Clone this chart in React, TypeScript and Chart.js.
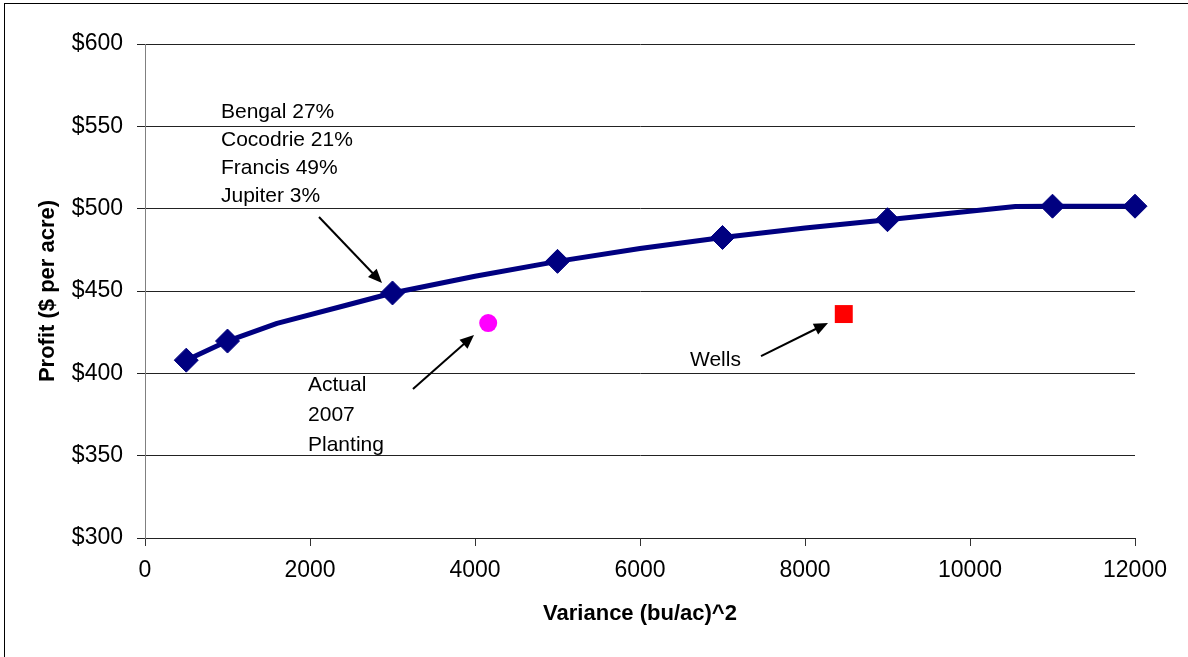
import React, { useEffect, useRef } from "react";
import { Chart, registerables } from "chart.js";

Chart.register(...registerables);

// ---- data ----
const frontierX = [500, 1000, 1600, 2450, 3000, 4000, 5000, 6000, 7000, 8000, 9000, 10550, 11000, 12000];
const frontierY = [408, 419.6, 430.3, 441.5, 448.8, 459, 468, 475.8, 482.5, 488.3, 493.3, 501.3, 501.5, 501.5];

const markerX = [500, 1000, 3000, 5000, 7000, 9000, 11000, 12000];
const markerY = [408, 419.6, 448.8, 468, 482.5, 493.3, 501.5, 501.5];

const actualX = [4160];
const actualY = [430.5];

const wellsX = [8470];
const wellsY = [436];

const xTitle = "Variance (bu/ac)^2";
const yTitle = "Profit ($ per acre)";

const noteLines1 = ["Bengal 27%", "Cocodrie 21%", "Francis 49%", "Jupiter 3%"];
const noteLines2 = ["Actual", "2007", "Planting"];
const noteLines3 = ["Wells"];

// annotation anchors in data units
const noteBlocks = [
  { lines: noteLines1, x: 921, y: 555.1, step: 17 },
  { lines: noteLines2, x: 1976, y: 389.3, step: 18.2 },
  { lines: noteLines3, x: 6606, y: 404.5, step: 0 },
];
const arrows = [
  { fx: 2109, fy: 494.9, tx: 2873, ty: 454.9 },
  { fx: 3248, fy: 390.5, tx: 3988, ty: 423.3 },
  { fx: 7467, fy: 410.5, tx: 8279, ty: 430.6 },
];

const FONT = '"Liberation Sans", Arial, Helvetica, sans-serif';

const zip = (xs: number[], ys: number[]) => xs.map((x, i) => ({ x, y: ys[i] }));

const notesPlugin = {
  id: "notes",
  afterDatasetsDraw(chart: any) {
    const { ctx } = chart;
    const xs = chart.scales.x;
    const ys = chart.scales.y;
    ctx.save();
    ctx.fillStyle = "#000";
    ctx.font = `21px ${FONT}`;
    ctx.textAlign = "left";
    ctx.textBaseline = "alphabetic";
    for (const b of noteBlocks) {
      b.lines.forEach((t, i) => {
        ctx.fillText(t, xs.getPixelForValue(b.x), ys.getPixelForValue(b.y - i * b.step));
      });
    }
    ctx.strokeStyle = "#000";
    ctx.lineWidth = 2;
    for (const a of arrows) {
      const x1 = xs.getPixelForValue(a.fx);
      const y1 = ys.getPixelForValue(a.fy);
      const x2 = xs.getPixelForValue(a.tx);
      const y2 = ys.getPixelForValue(a.ty);
      const ang = Math.atan2(y2 - y1, x2 - x1);
      const len = 14;
      const hw = 6;
      const bx = x2 - Math.cos(ang) * len;
      const by = y2 - Math.sin(ang) * len;
      ctx.beginPath();
      ctx.moveTo(x1, y1);
      ctx.lineTo(bx + Math.cos(ang) * 2, by + Math.sin(ang) * 2);
      ctx.stroke();
      ctx.beginPath();
      ctx.moveTo(x2, y2);
      ctx.lineTo(bx + Math.sin(ang) * hw, by - Math.cos(ang) * hw);
      ctx.lineTo(bx - Math.sin(ang) * hw, by + Math.cos(ang) * hw);
      ctx.closePath();
      ctx.fill();
    }
    ctx.restore();
  },
};

export default function App() {
  const ref = useRef<HTMLCanvasElement | null>(null);

  useEffect(() => {
    if (!ref.current) return;
    Chart.defaults.font.family = FONT;
    const chart = new Chart(ref.current, {
      type: "scatter",
      data: {
        datasets: [
          {
            label: "Actual 2007 Planting",
            data: zip(actualX, actualY),
            pointStyle: "circle",
            pointRadius: 9,
            backgroundColor: "#FF00FF",
            borderColor: "#FF00FF",
            borderWidth: 0,
            clip: false,
          },
          {
            label: "Wells",
            data: zip(wellsX, wellsY),
            pointStyle: "rect",
            pointRadius: 12.7,
            backgroundColor: "#FF0000",
            borderColor: "#FF0000",
            borderWidth: 0,
            clip: false,
          },
          {
            label: "Frontier points",
            data: zip(markerX, markerY),
            pointStyle: "rectRot",
            pointRadius: 12,
            backgroundColor: "#000080",
            borderColor: "#000080",
            borderWidth: 1,
            clip: false,
          },
          {
            label: "Frontier",
            data: zip(frontierX, frontierY),
            showLine: true,
            pointRadius: 0,
            borderColor: "#000080",
            backgroundColor: "#000080",
            borderWidth: 5,
            borderJoinStyle: "round",
            tension: 0,
            clip: false,
          } as any,
        ],
      },
      options: {
        animation: false,
        responsive: true,
        maintainAspectRatio: false,
        layout: { padding: { top: 44, right: 53, bottom: 0, left: 0 } },
        plugins: {
          legend: { display: false },
          tooltip: { enabled: false },
        },
        scales: {
          x: {
            type: "linear",
            min: 0,
            max: 12000,
            ticks: {
              stepSize: 2000,
              padding: 11,
              color: "#000",
              maxRotation: 0,
              autoSkip: false,
              font: { size: 23, family: FONT },
              callback: (v: any) => String(v),
            },
            grid: {
              display: true,
              drawOnChartArea: false,
              drawTicks: true,
              tickLength: 8,
              color: "#333",
            },
            border: { color: "#222", width: 1 },
            title: {
              display: true,
              text: xTitle,
              color: "#000",
              font: { size: 22, weight: "bold", family: FONT },
              padding: { top: 0, bottom: 30 },
            },
            afterFit: (s: any) => {
              s.height = 119;
            },
          },
          y: {
            type: "linear",
            min: 300,
            max: 600,
            ticks: {
              stepSize: 50,
              padding: 14,
              color: "#000",
              font: { size: 23, family: FONT },
              callback: (v: any) => "$" + v,
            },
            grid: {
              color: "#222",
              lineWidth: 1,
              tickLength: 8,
            },
            border: { color: "#808080", width: 1 },
            title: {
              display: true,
              text: yTitle,
              color: "#000",
              font: { size: 22, weight: "bold", family: FONT },
              padding: { top: 35, bottom: 0 },
            },
            afterFit: (s: any) => {
              s.width = 145;
            },
          },
        },
      } as any,
      plugins: [notesPlugin],
    });
    return () => chart.destroy();
  }, []);

  return (
    <div
      style={{
        position: "fixed",
        left: 0,
        top: 0,
        width: 1188,
        height: 657,
        overflow: "hidden",
        background: "#fff",
      }}
    >
      <div
        style={{
          position: "absolute",
          left: 4,
          top: 3,
          width: 1400,
          height: 900,
          border: "1px solid #000",
        }}
      />
      <canvas ref={ref} style={{ position: "absolute", left: 0, top: 0 }} />
    </div>
  );
}
